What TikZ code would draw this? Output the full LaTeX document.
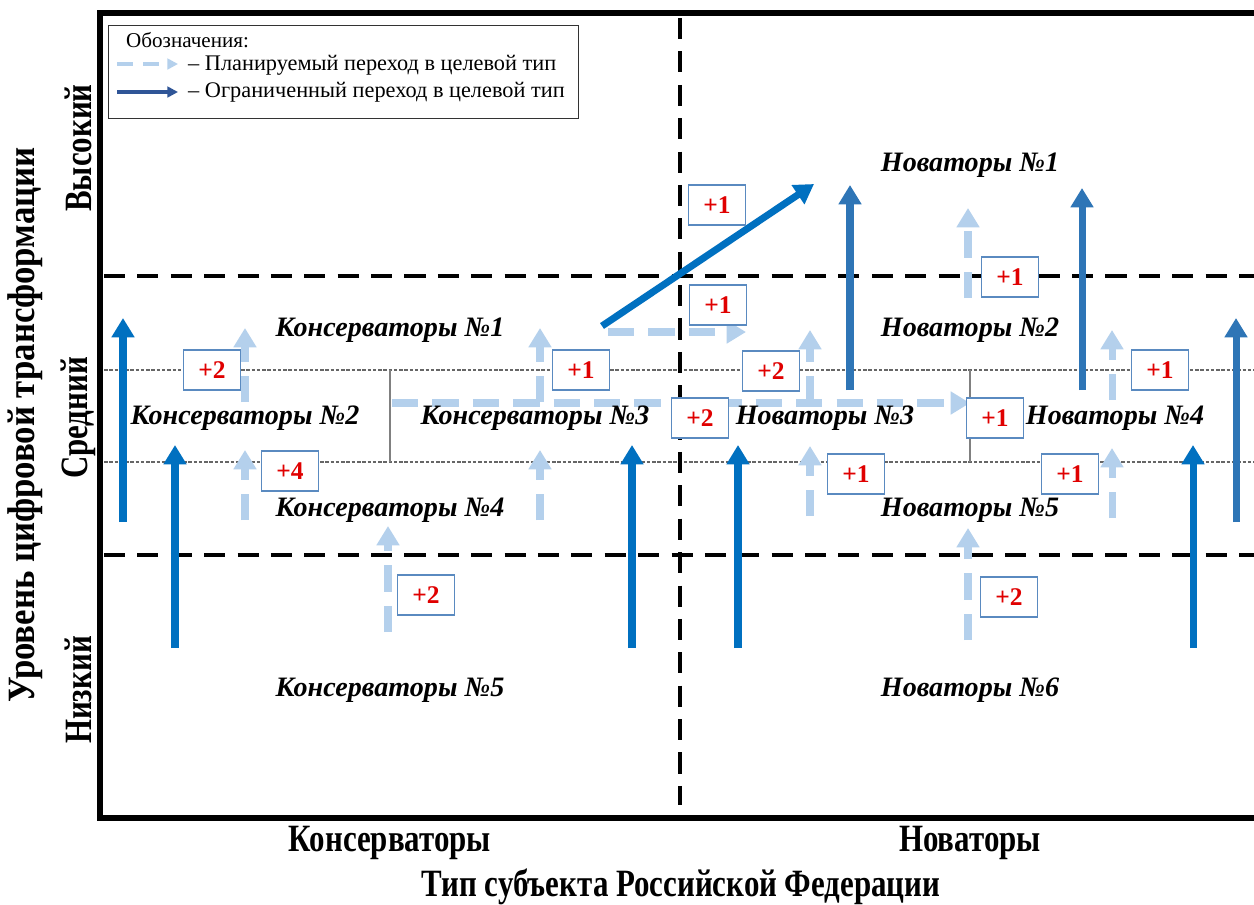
\documentclass[tikz,border=0pt]{standalone}
\usepackage{fontspec}
\setmainfont{Liberation Serif}
\newfontfamily\axisfont{Liberation Serif}[FakeStretch=0.8]
\newfontfamily\titlefont{Liberation Serif}[FakeStretch=0.9]
\usetikzlibrary{arrows.meta}
\definecolor{strong}{HTML}{0070C0}
\definecolor{muted}{HTML}{2E75B6}
\definecolor{plan}{HTML}{B4D0EC}
\definecolor{navy}{HTML}{2F5597}
\definecolor{boxline}{HTML}{5A8AC0}
\definecolor{gain}{HTML}{E00000}
\tikzset{
  region/.style={font=\fontsize{16}{18}\selectfont\bfseries\itshape},
  axis/.style={font=\axisfont\fontsize{22}{24}\selectfont\bfseries},
  ytitle/.style={font=\titlefont\fontsize{22}{24}\selectfont\bfseries},
  legendtext/.style={anchor=west, font=\fontsize{12.7}{14}\selectfont},
  gainbox/.style={draw=boxline, line width=0.6pt, fill=white, text=gain,
    font=\fontsize{14.5}{16}\selectfont\bfseries, minimum width=1.14cm, minimum height=0.8cm, inner sep=0pt},
  limited/.style={strong, line width=4pt, -{Triangle[length=11pt,width=12.5pt]}},
  planned/.style={plan, line width=4pt, dash pattern=on 15pt off 8pt, -{Triangle[length=11pt,width=12.5pt]}},
  zone/.style={black, line width=2.3pt, dash pattern=on 12pt off 7pt},
  level/.style={black!60, line width=0.8pt, dash pattern=on 2pt off 1pt},
  split/.style={black!50, line width=0.6pt}
}
\begin{document}
\begin{tikzpicture}[x=0.02cm, y=-0.02cm]
\useasboundingbox[fill=white] (0,0) rectangle (1254,904);
% frame and zones
\coordinate (TL) at (100,13);
\coordinate (BR) at (1262,818);
\coordinate (vtop) at (680,18);
\coordinate (vbot) at (680,805);
\coordinate (hiL) at (104,276);
\coordinate (hiR) at (1254,276);
\coordinate (loL) at (104,555);
\coordinate (loR) at (1254,555);
\coordinate (m1L) at (104,370);
\coordinate (m1R) at (1254,370);
\coordinate (m2L) at (104,462);
\coordinate (m2R) at (1254,462);
\coordinate (s1t) at (390,370);
\coordinate (s1b) at (390,462);
\coordinate (s2t) at (970,370);
\coordinate (s2b) at (970,462);
\draw[level] (m1L) -- (m1R);
\draw[level] (m2L) -- (m2R);
\draw[split] (s1t) -- (s1b);
\draw[split] (s2t) -- (s2b);
\draw[zone] (vtop) -- (vbot);
\draw[zone] (hiL) -- (hiR);
\draw[zone] (loL) -- (loR);
\draw[line width=3.5pt] (TL) rectangle (BR);
% legend
\node[draw=black!80, line width=0.8pt, minimum width=9.4cm, minimum height=1.86cm, anchor=north west] (key) at (108,25) {};
\node[legendtext, font=\fontsize{12}{14}\selectfont] (keyhead) at (120,40) {Обозначения:};
\node[legendtext] (keyplan) at (182,65) {– Планируемый переход в целевой тип};
\node[legendtext] (keylim) at (182,92) {– Ограниченный переход в целевой тип};
\coordinate (kp1) at (117,64);
\coordinate (kp2) at (178,64);
\coordinate (kl1) at (117,92);
\coordinate (kl2) at (178,92);
\draw[plan, line width=1.8pt, dash pattern=on 9pt off 6pt, -{Triangle[length=6pt,width=6pt]}] (kp1) -- (kp2);
\draw[navy, line width=1.8pt, -{Triangle[length=6pt,width=6pt]}] (kl1) -- (kl2);
% limited transitions
\coordinate (a1s) at (123,522);
\coordinate (a1e) at (123,318);
\coordinate (a2s) at (175,648);
\coordinate (a2e) at (175,445);
\coordinate (a3s) at (632,648);
\coordinate (a3e) at (632,445);
\coordinate (a4s) at (738,648);
\coordinate (a4e) at (738,445);
\coordinate (a5s) at (1193,648);
\coordinate (a5e) at (1193,445);
\coordinate (a6s) at (1236,522);
\coordinate (a6e) at (1236,318);
\coordinate (a7s) at (850,390);
\coordinate (a7e) at (850,185);
\coordinate (a8s) at (1082,390);
\coordinate (a8e) at (1082,188);
\coordinate (a9s) at (602,326);
\coordinate (a9e) at (814,184);
\draw[limited] (a1s) -- (a1e);
\draw[limited] (a2s) -- (a2e);
\draw[limited] (a3s) -- (a3e);
\draw[limited] (a4s) -- (a4e);
\draw[limited] (a5s) -- (a5e);
\draw[limited, muted] (a6s) -- (a6e);
\draw[limited, muted] (a7s) -- (a7e);
\draw[limited, muted] (a8s) -- (a8e);
\draw[limited] (a9s) -- (a9e);
% planned transitions
\coordinate (p1s) at (245,402);
\coordinate (p1e) at (245,328);
\coordinate (p2s) at (245,520);
\coordinate (p2e) at (245,450);
\coordinate (p3s) at (540,402);
\coordinate (p3e) at (540,328);
\coordinate (p4s) at (540,520);
\coordinate (p4e) at (540,450);
\coordinate (p5s) at (388,632);
\coordinate (p5e) at (388,526);
\coordinate (p6s) at (968,640);
\coordinate (p6e) at (968,528);
\coordinate (p7s) at (968,298);
\coordinate (p7e) at (968,208);
\coordinate (p8s) at (810,402);
\coordinate (p8e) at (810,330);
\coordinate (p9s) at (810,516);
\coordinate (p9e) at (810,446);
\coordinate (p10s) at (1112,400);
\coordinate (p10e) at (1112,330);
\coordinate (p11s) at (1112,518);
\coordinate (p11e) at (1112,448);
\coordinate (p12s) at (608,332);
\coordinate (p12e) at (746,332);
\coordinate (p13s) at (392,403);
\coordinate (p13e) at (970,403);
\draw[planned] (p1s) -- (p1e);
\draw[planned] (p2s) -- (p2e);
\draw[planned] (p3s) -- (p3e);
\draw[planned] (p4s) -- (p4e);
\draw[planned] (p5s) -- (p5e);
\draw[planned] (p6s) -- (p6e);
\draw[planned] (p7s) -- (p7e);
\draw[planned] (p8s) -- (p8e);
\draw[planned] (p9s) -- (p9e);
\draw[planned] (p10s) -- (p10e);
\draw[planned] (p11s) -- (p11e);
\draw[planned] (p12s) -- (p12e);
\draw[planned] (p13s) -- (p13e);
% gains
\node[gainbox] (g1) at (212,370) {+2};
\node[gainbox] (g2) at (290,471) {+4};
\node[gainbox] (g3) at (581,370) {+1};
\node[gainbox] (g4) at (426,595) {+2};
\node[gainbox] (g5) at (717,205) {+1};
\node[gainbox] (g6) at (718,305) {+1};
\node[gainbox] (g7) at (700,418) {+2};
\node[gainbox] (g8) at (771,371) {+2};
\node[gainbox] (g9) at (1010,277) {+1};
\node[gainbox] (g10) at (995,418) {+1};
\node[gainbox] (g11) at (856,474) {+1};
\node[gainbox] (g12) at (1160,370) {+1};
\node[gainbox] (g13) at (1070,474) {+1};
\node[gainbox] (g14) at (1009,597) {+2};
% regions
\node[region] (N1) at (970,165) {Новаторы №1};
\node[region] (K1) at (390,330) {Консерваторы №1};
\node[region] (N2) at (970,330) {Новаторы №2};
\node[region] (K2) at (245,418) {Консерваторы №2};
\node[region] (K3) at (535,418) {Консерваторы №3};
\node[region] (N3) at (825,418) {Новаторы №3};
\node[region] (N4) at (1115,418) {Новаторы №4};
\node[region] (K4) at (390,510) {Консерваторы №4};
\node[region] (N5) at (970,510) {Новаторы №5};
\node[region] (K5) at (390,690) {Консерваторы №5};
\node[region] (N6) at (970,690) {Новаторы №6};
% axes
\node[axis] (xK) at (390,843) {Консерваторы};
\node[axis] (xN) at (970,843) {Новаторы};
\node[axis] (xT) at (681,887) {Тип субъекта Российской Федерации};
\node[ytitle, rotate=90] (yT) at (25,425) {Уровень цифровой трансформации};
\node[axis, rotate=90] (yH) at (78,148) {Высокий};
\node[axis, rotate=90] (yM) at (78,418) {Средний};
\node[axis, rotate=90] (yL) at (78,690) {Низкий};
\end{tikzpicture}
\end{document}
